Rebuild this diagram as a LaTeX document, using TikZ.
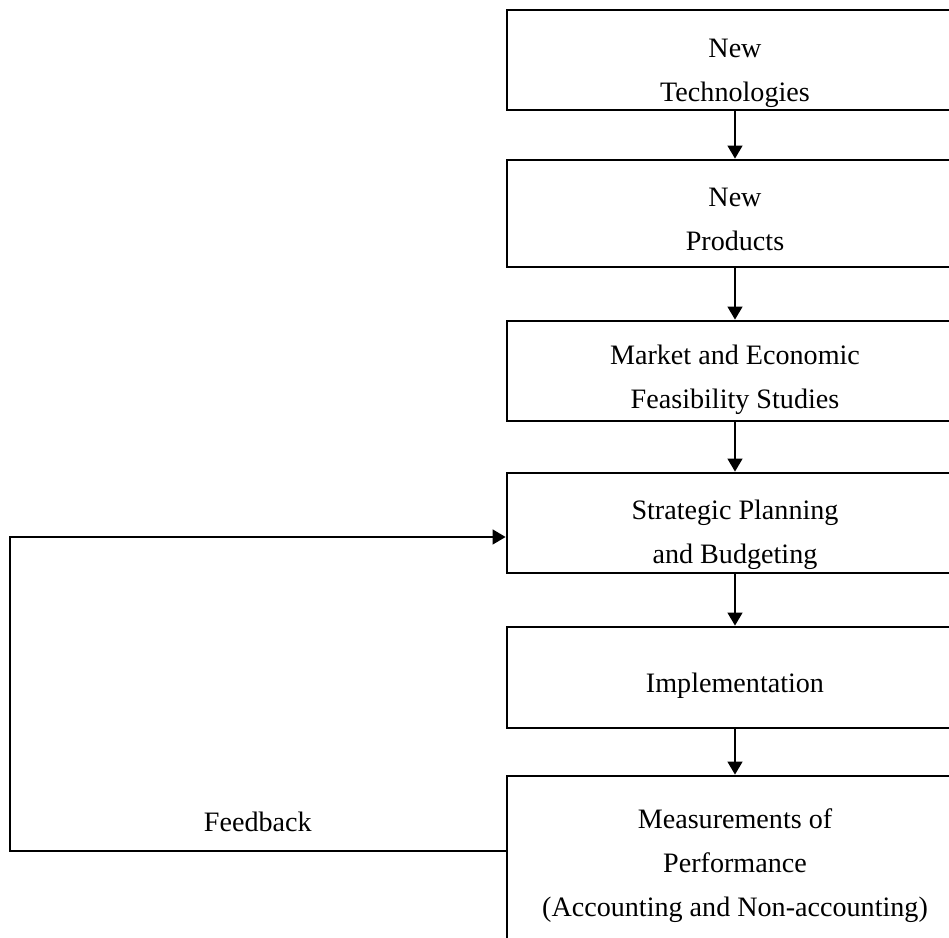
\documentclass[tikz,border=0pt]{standalone}
\usepackage{fontspec}
\setmainfont{Liberation Serif}
\usepackage{tikz}
\usetikzlibrary{arrows.meta,positioning,calc}

\begin{document}
\begin{tikzpicture}[
  font=\fontsize{16}{25}\selectfont,
  stage/.style={draw=black, line width=1.5pt, minimum width=9.12cm, minimum height=2cm, align=center, inner sep=2pt, text depth=0pt},
  drop/.style={text height=#1},
  flow/.style={-{Triangle[length=2.6mm, width=2.9mm]}, draw=black, line width=1.5pt},
  fb/.style={-{Triangle[length=2.6mm, width=2.9mm]}, draw=black, line width=1.5pt}
]
\clip (0,0) rectangle (18.98,18.76);

% stages
\node[stage, drop=47pt] (tech) at (14.7, 17.56) {New\\Technologies};
\node[stage, drop=42pt, minimum height=2.14cm] (prod) at (14.7, 14.49) {New\\Products};
\node[stage, drop=43pt] (study) at (14.7, 11.34) {Market and Economic\\Feasibility Studies};
\node[stage, drop=46pt] (plan) at (14.7, 8.3) {Strategic Planning\\and Budgeting};
\node[stage, drop=17pt, minimum height=2.02cm] (impl) at (14.7, 5.21) {Implementation};
\node[stage, drop=62pt, minimum height=3.44cm] (meas) at (14.7, 1.52) {Measurements of\\Performance\\(Accounting and Non-accounting)};

% flow down
\draw[flow] (tech) -- (prod);
\draw[flow] (prod) -- (study);
\draw[flow] (study) -- (plan);
\draw[flow] (plan) -- (impl);
\draw[flow] (impl) -- (meas);

% feedback loop
\coordinate (fblow) at (0.2, 1.74);
\coordinate (fbtop) at (0.2, 8.02);
\draw[fb] (meas.west |- fblow) -- (fblow) -- (fbtop) -- (plan.west |- fbtop);
\node[above=7.5pt] (fbtext) at ($(fblow)!0.5!(meas.west |- fblow)$) {Feedback};

\end{tikzpicture}
\end{document}
